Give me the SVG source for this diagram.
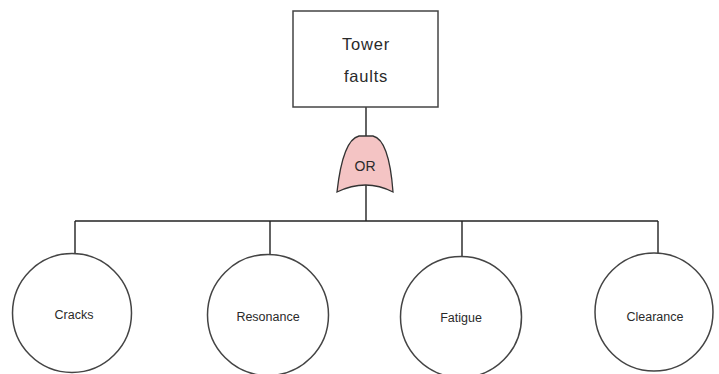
<svg xmlns="http://www.w3.org/2000/svg" width="719" height="374" viewBox="0 0 719 374">
<style>
.ln{fill:none;stroke:#222;stroke-width:1.4}
.ev{fill:#fff;stroke:#444;stroke-width:1.5}
.t{font-family:"Liberation Sans",Arial,sans-serif;fill:#2a2a2a;text-anchor:middle}
.s{font-size:12.5px}
</style>
<rect width="719" height="374" fill="#fff"/>
<g id="connectors">
<path class="ln" d="M366,107 V136"/>
<path class="ln" d="M366,185 V221"/>
<path class="ln" d="M75,221 H658"/>
<path class="ln" d="M75,221 V254"/>
<path class="ln" d="M270,221 V255"/>
<path class="ln" d="M462,221 V257"/>
<path class="ln" d="M658,221 V253"/>
</g>
<g id="tower">
<rect x="293" y="11" width="145" height="96" fill="#fff" stroke="#444" stroke-width="1.5"/>
<text class="t" x="366" y="50" font-size="16.5" letter-spacing="0.8">Tower</text>
<text class="t" x="366" y="82" font-size="16.5" letter-spacing="0.8">faults</text>
</g>
<g id="or-gate">
<path d="M359,136 L373,136 C386,139 391,165 393,192 Q366,178 337,192 C340,165 346,139 359,136 Z" fill="#f4c4c4" stroke="#333" stroke-width="1.3"/>
<text class="t" x="365" y="171" font-size="14">OR</text>
</g>
<g id="cracks">
<circle class="ev" cx="72" cy="313" r="59.5"/>
<text class="t s" x="74" y="319">Cracks</text>
</g>
<g id="resonance">
<circle class="ev" cx="268" cy="315" r="60.5"/>
<text class="t s" x="268" y="321">Resonance</text>
</g>
<g id="fatigue">
<circle class="ev" cx="461" cy="317" r="60.5"/>
<text class="t s" x="461" y="322">Fatigue</text>
</g>
<g id="clearance">
<circle class="ev" cx="654" cy="312" r="59"/>
<text class="t s" x="655" y="321">Clearance</text>
</g>
</svg>
